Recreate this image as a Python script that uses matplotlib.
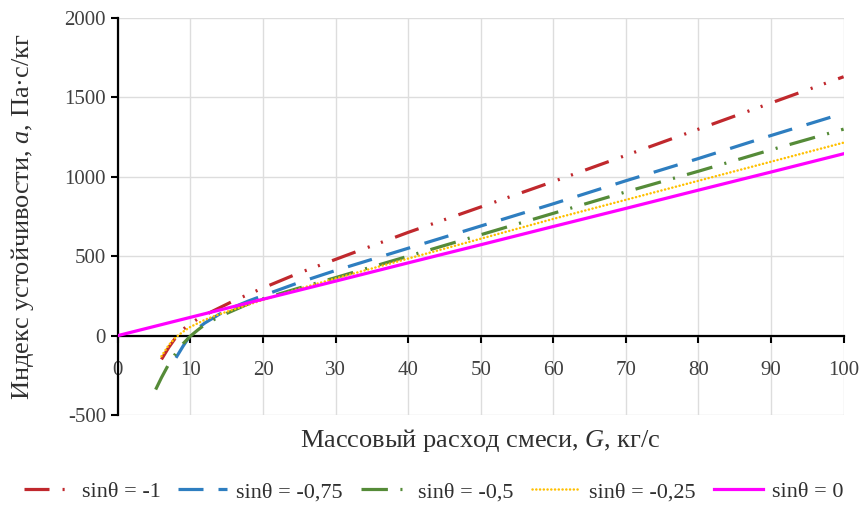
import matplotlib
matplotlib.use("Agg")
import matplotlib.pyplot as plt

plt.rcParams['font.family'] = ['Liberation Serif', 'DejaVu Serif']
plt.rcParams['mathtext.fontset'] = 'custom'
plt.rcParams['mathtext.rm'] = 'Liberation Serif'
plt.rcParams['mathtext.it'] = 'Liberation Serif:italic'
plt.rcParams['lines.scale_dashes'] = False
plt.rcParams['axes.unicode_minus'] = False

# ---- data ----
G_m1 = [6, 7, 8, 9, 10, 11, 12, 14, 16, 18, 20, 25, 30, 40, 50, 60, 70, 80, 90, 100]
a_m1 = [-150, -75, -10, 40, 75, 105, 130, 175, 220, 260, 300, 395, 480, 650, 810, 970, 1135, 1300, 1465, 1630]

G_m075 = [8, 9, 10, 11, 12, 14, 16, 18, 20, 25, 30, 40, 50, 60, 70, 80, 90, 100]
a_m075 = [-140, -65, 3, 45, 80, 135, 180, 218, 252, 335, 410, 550, 690, 830, 975, 1115, 1260, 1400]

G_m05 = [5.2, 6, 7, 8, 9, 10, 11, 12, 14, 16, 18, 20, 25, 30, 40, 50, 60, 70, 80, 90, 100]
a_m05 = [-340, -265, -180, -110, -50, -3, 35, 70, 120, 160, 200, 232, 300, 365, 500, 635, 770, 905, 1035, 1170, 1300]

G_m025 = [6, 7, 8, 9, 10, 12, 14, 16, 18, 20, 25, 30, 40, 50, 60, 70, 80, 90, 100]
a_m025 = [-130, -60, -10, 25, 55, 100, 135, 165, 195, 225, 295, 360, 485, 610, 735, 855, 975, 1095, 1215]

G_0 = [0, 10, 20, 30, 40, 50, 60, 70, 80, 90, 100]
a_0 = [0, 115, 229, 343, 458, 572, 687, 801, 916, 1030, 1145]

labels = ['sinθ = -1', 'sinθ = -0,75', 'sinθ = -0,5', 'sinθ = -0,25', 'sinθ = 0']
xticks = [0, 10, 20, 30, 40, 50, 60, 70, 80, 90, 100]
yticks = [-500, 0, 500, 1000, 1500, 2000]

fig = plt.figure(figsize=(8.67, 5.07), dpi=100)
ax = fig.add_axes([0.136, 0.1815, 0.837, 0.783])

lw = 2.3
ax.plot(G_m1, a_m1, color='#C0282D', lw=lw, dashes=(18, 9.4, 1.5, 8.6, 1.5, 9.4),
        dash_capstyle='butt', label=labels[0], zorder=3)
ax.plot(G_m075, a_m075, color='#2E7EC0', lw=lw, dashes=(18, 10.8),
        dash_capstyle='butt', label=labels[1], zorder=3)
ax.plot(G_m05, a_m05, color='#558B38', lw=lw, dashes=(19, 9, 1.5, 9),
        dash_capstyle='butt', label=labels[2], zorder=3)
ax.plot(G_m025, a_m025, color='#FFC000', lw=1.8, dashes=(0.1, 2.6),
        dash_capstyle='round', label=labels[3], zorder=3)
ax.plot(G_0, a_0, color='#FF00FF', lw=lw, label=labels[4], zorder=3)

ax.set_xlim(0, 100)
ax.set_ylim(-500, 2000)
ax.set_xticks(xticks)
ax.set_yticks(yticks)
ax.grid(True, color='#DDDDDD', lw=1.0, zorder=0)
ax.set_axisbelow(True)

for s in ['top', 'right']:
    ax.spines[s].set_visible(False)
ax.spines['bottom'].set_position(('data', 0))
ax.spines['bottom'].set_color('black')
ax.spines['bottom'].set_linewidth(1.6)
ax.spines['left'].set_color('black')
ax.spines['left'].set_linewidth(1.6)
ax.spines['bottom'].set_zorder(2)

ax.tick_params(axis='both', labelsize=15, direction='out', length=5, width=1.5,
               colors='black', labelcolor='#404040')
ax.tick_params(axis='x', pad=13)

ax.set_xlabel('Массовый расход смеси, $G$, кг/с', fontsize=19, color='#303030')
ax.xaxis.set_label_coords(0.5, -0.03)
ax.set_ylabel('Индекс устойчивости, $a$, Па·с/кг', fontsize=19, color='#303030')
ax.yaxis.set_label_coords(-0.113, 0.5)

leg = fig.legend(loc='lower center', bbox_to_anchor=(0.5, -0.03), ncol=5, frameon=False,
                 fontsize=16, handlelength=2.2, handletextpad=0.4, columnspacing=0.8)
for t in leg.get_texts():
    t.set_color('#303030')

fig.savefig('out.png', dpi=100)
